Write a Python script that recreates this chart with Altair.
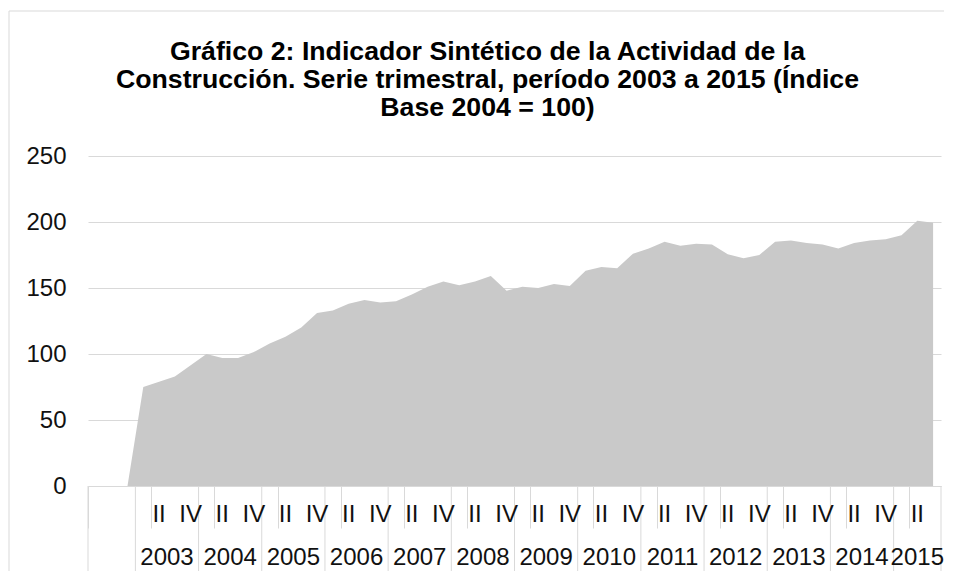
import altair as alt
import pandas as pd

title_lines = [
    "Gráfico 2: Indicador Sintético de la Actividad de la",
    "Construcción. Serie trimestral, período 2003 a 2015 (Índice",
    "Base 2004 = 100)",
]

years = ["", "2003", "2004", "2005", "2006", "2007", "2008", "2009",
         "2010", "2011", "2012", "2013", "2014", "2015"]
year_sizes = [3, 4, 4, 4, 4, 4, 4, 4, 4, 4, 4, 4, 4, 3]
quarter_names = ["", "", ""] + ["I", "II", "III", "IV"] * 12 + ["I", "II", "III"]
values = [
    0, 0, 0,
    75, 79, 83, 91.5,          # 2003
    100, 97, 97, 101.5,        # 2004
    108, 113, 120, 131,        # 2005
    133, 138, 141, 139,        # 2006
    140, 145, 151, 155,        # 2007
    152, 155, 159, 148,        # 2008
    151, 150, 153, 151.5,      # 2009
    163, 166, 165, 176,        # 2010
    180, 185, 182, 183.5,      # 2011
    183, 175.5, 172.5, 175,    # 2012
    185, 186, 184, 183,        # 2013
    180, 184, 186, 187,        # 2014
    190, 201, 199.5,           # 2015
]

FONT = "Liberation Sans"
GRID = "#d9d9d9"
W, H = 853, 330
n = len(values)

df = pd.DataFrame({"pos": [i + 0.5 for i in range(n)], "value": values,
                   "q": quarter_names})
qdf = df[[(i % 2 == 0) and quarter_names[i] != "" for i in range(n)]]

bounds = [0]
for s in year_sizes:
    bounds.append(bounds[-1] + s)
bdf = pd.DataFrame({"b": bounds})
ydf = pd.DataFrame({"year": years,
                    "pos": [(bounds[k] + bounds[k + 1]) / 2 for k in range(len(years))]})
ydf = ydf[ydf["year"] != ""]

xscale = alt.Scale(domain=[0, n], nice=False, zero=False)

area = alt.Chart(df).mark_area(color="#c9c9c9").encode(
    x=alt.X("pos:Q", scale=xscale,
            axis=alt.Axis(values=list(range(n + 1)), tickSize=42, labels=False,
                          grid=False, domainColor=GRID, tickColor=GRID,
                          title=None)),
    y=alt.Y("value:Q", scale=alt.Scale(domain=[0, 250], nice=False),
            axis=alt.Axis(values=[0, 50, 100, 150, 200, 250], grid=True,
                          gridColor=GRID, ticks=False, domain=False,
                          labelFontSize=24, labelFont=FONT, labelColor="#111111",
                          labelPadding=22, title=None)),
)

rules = alt.Chart(bdf).mark_rule(color=GRID).encode(
    x=alt.X("b:Q", scale=xscale),
    y=alt.value(H), y2=alt.value(415),
)

qtext = alt.Chart(qdf).mark_text(fontSize=24, font=FONT, baseline="alphabetic",
                                 color="#111111").encode(
    x=alt.X("pos:Q", scale=xscale), y=alt.value(366), text="q:N")

ytext = alt.Chart(ydf).mark_text(fontSize=24, font=FONT, baseline="alphabetic",
                                 color="#111111").encode(
    x=alt.X("pos:Q", scale=xscale), y=alt.value(409), text="year:N")

frame = pd.DataFrame({"k": [0]})
left_border = alt.Chart(frame).mark_rule(color=GRID).encode(
    x=alt.value(-79), y=alt.value(-145), y2=alt.value(415))
top_border = alt.Chart(frame).mark_rule(color=GRID).encode(
    x=alt.value(-79), x2=alt.value(856), y=alt.value(-145))

chart = alt.layer(area, rules, qtext, ytext, left_border, top_border).properties(
    width=W, height=H,
    title=alt.Title(text=title_lines, fontSize=26.7, font=FONT, fontWeight="bold",
                    anchor="middle", dx=-27, lineHeight=28, offset=-111,
                    color="#000000"),
    padding={"left": 0, "top": 2, "right": 0, "bottom": 0},
).configure_view(stroke=None)

chart.save("out.html", embed_options={"renderer": "svg", "actions": False})
